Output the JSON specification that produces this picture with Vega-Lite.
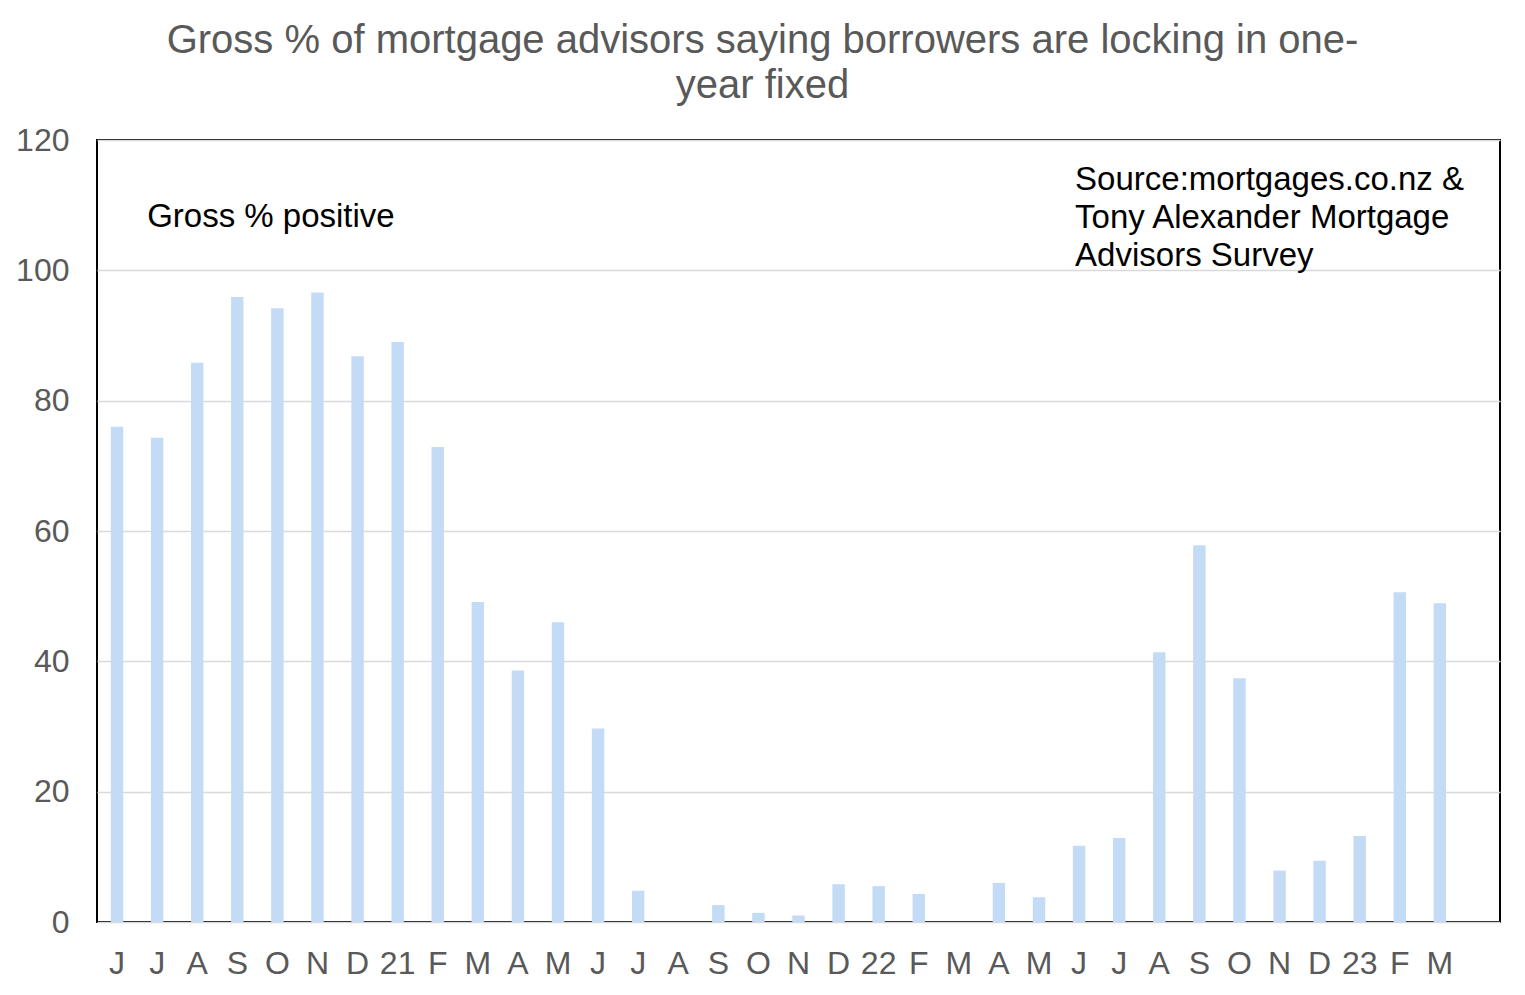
{
  "$schema": "https://vega.github.io/schema/vega-lite/v6.json",
  "width": 1403,
  "height": 782,
  "autosize": {"type": "none"},
  "padding": {"left": 97, "top": 140, "right": 25, "bottom": 73},
  "background": "white",
  "title": {
    "text": ["Gross % of mortgage advisors saying borrowers are locking in one-", "year fixed"],
    "anchor": "middle",
    "dx": -36,
    "offset": 18,
    "font": "Liberation Sans",
    "fontSize": 40,
    "fontWeight": "normal",
    "color": "#595959",
    "lineHeight": 45
  },
  "config": {
    "view": {"stroke": "#000000", "strokeWidth": 2},
    "font": "Liberation Sans"
  },
  "layer": [
    {
      "data": {
        "values": [
          {"month": "Jun 2020", "value": 76.0},
          {"month": "Jul 2020", "value": 74.3},
          {"month": "Aug 2020", "value": 85.8},
          {"month": "Sep 2020", "value": 95.9},
          {"month": "Oct 2020", "value": 94.2},
          {"month": "Nov 2020", "value": 96.6},
          {"month": "Dec 2020", "value": 86.8},
          {"month": "Jan 2021", "value": 89.0},
          {"month": "Feb 2021", "value": 72.9},
          {"month": "Mar 2021", "value": 49.1},
          {"month": "Apr 2021", "value": 38.6},
          {"month": "May 2021", "value": 46.0},
          {"month": "Jun 2021", "value": 29.7},
          {"month": "Jul 2021", "value": 4.8},
          {"month": "Aug 2021", "value": null},
          {"month": "Sep 2021", "value": 2.6},
          {"month": "Oct 2021", "value": 1.4},
          {"month": "Nov 2021", "value": 1.0},
          {"month": "Dec 2021", "value": 5.8},
          {"month": "Jan 2022", "value": 5.5},
          {"month": "Feb 2022", "value": 4.3},
          {"month": "Mar 2022", "value": null},
          {"month": "Apr 2022", "value": 6.0},
          {"month": "May 2022", "value": 3.8},
          {"month": "Jun 2022", "value": 11.7},
          {"month": "Jul 2022", "value": 12.9},
          {"month": "Aug 2022", "value": 41.4},
          {"month": "Sep 2022", "value": 57.8},
          {"month": "Oct 2022", "value": 37.4},
          {"month": "Nov 2022", "value": 7.9},
          {"month": "Dec 2022", "value": 9.4},
          {"month": "Jan 2023", "value": 13.2},
          {"month": "Feb 2023", "value": 50.6},
          {"month": "Mar 2023", "value": 48.9}
        ]
      },
      "mark": {"type": "bar", "color": "#C3DBF5"},
      "encoding": {
        "x": {
          "field": "month",
          "type": "ordinal",
          "sort": null,
          "scale": {
            "domain": ["Jun 2020","Jul 2020","Aug 2020","Sep 2020","Oct 2020","Nov 2020","Dec 2020","Jan 2021","Feb 2021","Mar 2021","Apr 2021","May 2021","Jun 2021","Jul 2021","Aug 2021","Sep 2021","Oct 2021","Nov 2021","Dec 2021","Jan 2022","Feb 2022","Mar 2022","Apr 2022","May 2022","Jun 2022","Jul 2022","Aug 2022","Sep 2022","Oct 2022","Nov 2022","Dec 2022","Jan 2023","Feb 2023","Mar 2023","Apr 2023"],
            "paddingInner": 0.69,
            "paddingOuter": 0.345
          },
          "axis": {
            "title": null,
            "labelAngle": 0,
            "labelExpr": "datum.label == 'Apr 2023' ? '' : (slice(datum.label, 0, 3) == 'Jan' ? slice(datum.label, -2) : slice(datum.label, 0, 1))",
            "labelFontSize": 32,
            "labelColor": "#595959",
            "labelPadding": 26,
            "ticks": false,
            "domain": false,
            "grid": false
          }
        },
        "y": {
          "field": "value",
          "type": "quantitative",
          "scale": {"domain": [0, 120], "nice": false},
          "axis": {
            "title": null,
            "values": [0, 20, 40, 60, 80, 100, 120],
            "labelFontSize": 32,
            "labelColor": "#595959",
            "labelPadding": 28,
            "ticks": false,
            "domain": false,
            "grid": true,
            "gridColor": "#D9D9D9",
            "gridWidth": 1.5
          }
        }
      }
    },
    {
      "data": {
        "values": [
          {"month": "Jul 2020", "y": 106.7, "text": "Gross % positive"}
        ]
      },
      "mark": {
        "type": "text",
        "align": "left",
        "baseline": "alphabetic",
        "dx": -10,
        "font": "Liberation Sans",
        "fontSize": 33,
        "color": "#000000"
      },
      "encoding": {
        "x": {"field": "month", "type": "ordinal", "sort": null},
        "y": {"field": "y", "type": "quantitative"},
        "text": {"field": "text"}
      }
    },
    {
      "data": {
        "values": [
          {"month": "Jun 2022", "y": 112.3, "text": "Source:mortgages.co.nz  &\nTony Alexander  Mortgage\nAdvisors Survey"}
        ]
      },
      "mark": {
        "type": "text",
        "align": "left",
        "baseline": "alphabetic",
        "dx": -4,
        "font": "Liberation Sans",
        "fontSize": 33,
        "color": "#000000",
        "lineBreak": "\n",
        "lineHeight": 38
      },
      "encoding": {
        "x": {"field": "month", "type": "ordinal", "sort": null},
        "y": {"field": "y", "type": "quantitative"},
        "text": {"field": "text"}
      }
    }
  ]
}
